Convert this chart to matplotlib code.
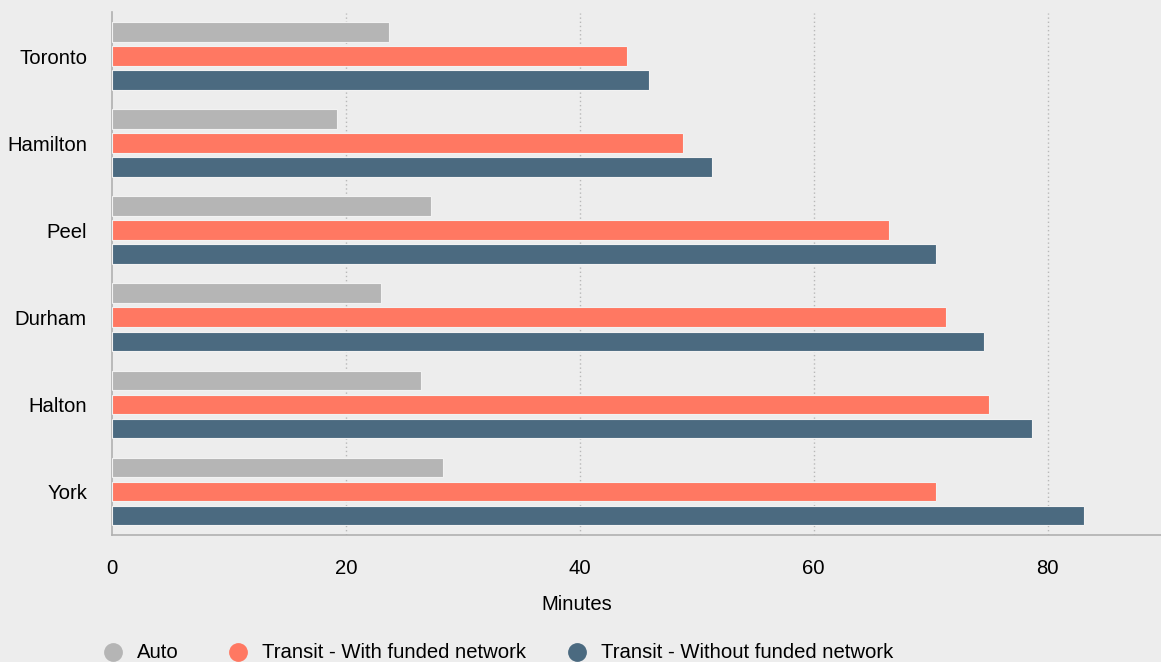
import numpy as np
import matplotlib.pyplot as plt
from matplotlib.lines import Line2D

regions = ["Toronto", "Hamilton", "Peel", "Durham", "Halton", "York"]
auto = [23.7, 19.2, 27.3, 23.0, 26.4, 28.3]
transit_funded = [44.0, 48.8, 66.4, 71.3, 75.0, 70.5]
transit_unfunded = [45.9, 51.3, 70.5, 74.6, 78.7, 83.1]
series_labels = ["Auto", "Transit - With funded network", "Transit - Without funded network"]
colors = ["#b5b5b5", "#ff7862", "#4b6a80"]
bg = "#ededed"

plt.rcParams['font.family'] = ['Liberation Sans', 'DejaVu Sans']
W, H = 1161, 662

fig = plt.figure(figsize=(W / 100, H / 100), dpi=100, facecolor=bg)
ax = fig.add_axes([112 / W, 1 - 535 / H, 1 - 112 / W, (535 - 12.5) / H])
ax.set_facecolor(bg)

y = np.arange(len(regions))
pitch = 0.276
height = 0.225
for i, (vals, c) in enumerate(zip([auto, transit_funded, transit_unfunded], colors)):
    ax.barh(y + (i - 1) * pitch, vals, height=height, color=c,
            edgecolor="#f2f2f2", linewidth=0.8, zorder=3)

ax.set_xlim(0, 89.7)
ax.set_ylim(len(regions) - 0.5, -0.5)
ax.set_yticks(y)
ax.set_yticklabels(regions, fontsize=14.6)
ax.set_xticks([0, 20, 40, 60, 80])
ax.tick_params(axis='x', length=0, pad=17, labelsize=14.6)
ax.tick_params(axis='y', length=0, pad=18)

for x in [20, 40, 60, 80]:
    ax.axvline(x, color="#b8b8b8", linestyle=(0, (1, 2)), linewidth=1, zorder=1)

for s in ["top", "right"]:
    ax.spines[s].set_visible(False)
for s in ["left", "bottom"]:
    ax.spines[s].set_color("#b0b0b0")
    ax.spines[s].set_linewidth(1.2)

ax.set_xlabel("Minutes", fontsize=14.6)
ax.xaxis.set_label_coords((577 - 112) / (W - 112), -0.115)

# legend: circle markers followed by labels along the bottom
leg_y = 1 - 652 / H
for xpx, label, c in zip([113, 238, 577], series_labels, colors):
    fig.add_artist(Line2D([xpx / W], [leg_y], marker='o', markersize=12.5,
                          markerfacecolor=c, markeredgecolor=c, linestyle='none',
                          transform=fig.transFigure))
    fig.text((xpx + 24) / W, leg_y, label, fontsize=14.6, va='center', ha='left')

fig.savefig("out.png", dpi=100, facecolor=bg)
